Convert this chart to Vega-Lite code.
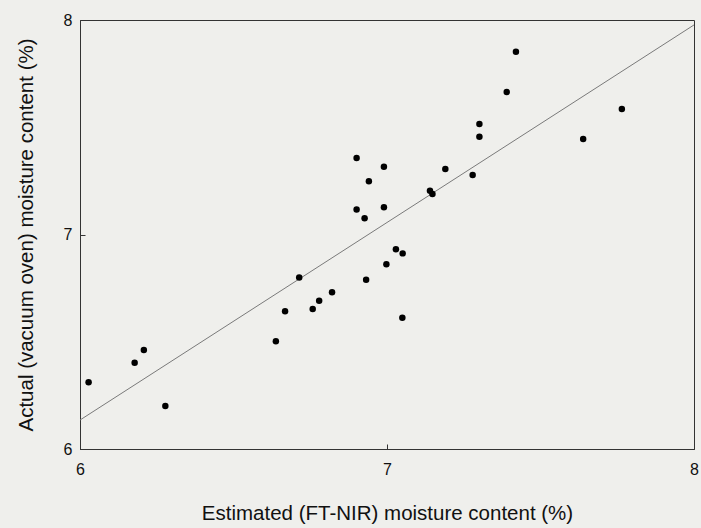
{
  "$schema": "https://vega.github.io/schema/vega-lite/v6.json",
  "width": 614,
  "height": 429,
  "autosize": "none",
  "padding": {"left": 80, "top": 20, "right": 7, "bottom": 79},
  "background": "#efefec",
  "config": {
    "view": {"stroke": "#333333", "strokeWidth": 1},
    "font": "Liberation Sans",
    "axis": {
      "grid": false,
      "domainColor": "#333333",
      "tickColor": "#333333",
      "tickSize": -5,
      "labelFont": "Liberation Sans",
      "labelFontSize": 16,
      "labelColor": "#111111",
      "labelOverlap": false,
      "labelFlush": false,
      "titleFont": "Liberation Sans",
      "titleFontSize": 20.5,
      "titleFontWeight": "normal",
      "titleColor": "#111111"
    }
  },
  "datasets": {
    "points": [
      {"estimated": 6.028, "actual": 6.311},
      {"estimated": 6.178, "actual": 6.402},
      {"estimated": 6.208, "actual": 6.462},
      {"estimated": 6.278, "actual": 6.200},
      {"estimated": 6.714, "actual": 6.800},
      {"estimated": 6.668, "actual": 6.642},
      {"estimated": 6.638, "actual": 6.502},
      {"estimated": 6.758, "actual": 6.653},
      {"estimated": 6.779, "actual": 6.691},
      {"estimated": 6.821, "actual": 6.731},
      {"estimated": 6.932, "actual": 6.789},
      {"estimated": 6.998, "actual": 6.861},
      {"estimated": 7.029, "actual": 6.931},
      {"estimated": 7.051, "actual": 6.912},
      {"estimated": 7.050, "actual": 6.612},
      {"estimated": 6.901, "actual": 7.357},
      {"estimated": 6.990, "actual": 7.316},
      {"estimated": 6.941, "actual": 7.248},
      {"estimated": 6.901, "actual": 7.117},
      {"estimated": 6.927, "actual": 7.076},
      {"estimated": 6.990, "actual": 7.127},
      {"estimated": 7.140, "actual": 7.204},
      {"estimated": 7.148, "actual": 7.189},
      {"estimated": 7.190, "actual": 7.305},
      {"estimated": 7.279, "actual": 7.277},
      {"estimated": 7.420, "actual": 7.852},
      {"estimated": 7.390, "actual": 7.664},
      {"estimated": 7.301, "actual": 7.515},
      {"estimated": 7.301, "actual": 7.456},
      {"estimated": 7.765, "actual": 7.585},
      {"estimated": 7.639, "actual": 7.445}
    ],
    "fit": [
      {"estimated": 6, "actual": 6.135},
      {"estimated": 8, "actual": 7.977}
    ]
  },
  "layer": [
    {
      "data": {"name": "fit"},
      "mark": {"type": "line", "color": "#7a7a7a", "strokeWidth": 1},
      "encoding": {
        "x": {"field": "estimated", "type": "quantitative"},
        "y": {"field": "actual", "type": "quantitative"}
      }
    },
    {
      "data": {"name": "points"},
      "mark": {"type": "circle", "color": "#000000", "opacity": 1, "size": 42},
      "encoding": {
        "x": {
          "field": "estimated",
          "type": "quantitative",
          "scale": {"domain": [6, 8], "nice": false, "zero": false},
          "axis": {"values": [6, 7, 8], "labelExpr": "format(datum.value, 'd')", "title": "Estimated (FT-NIR) moisture content (%)", "labelPadding": 17, "titlePadding": 26}
        },
        "y": {
          "field": "actual",
          "type": "quantitative",
          "scale": {"domain": [6, 8], "nice": false, "zero": false},
          "axis": {"values": [6, 7, 8], "labelExpr": "format(datum.value, 'd')", "title": "Actual (vacuum oven) moisture content (%)", "labelPadding": 13, "titlePadding": 27}
        }
      }
    }
  ]
}
